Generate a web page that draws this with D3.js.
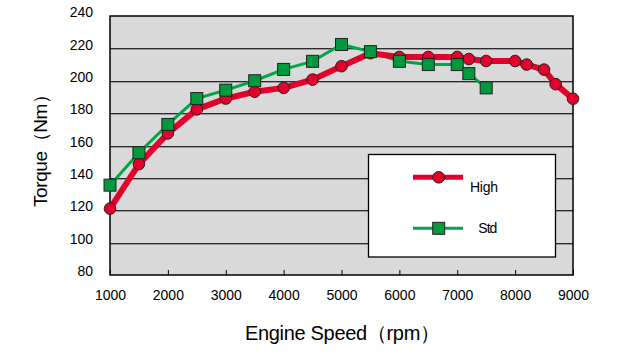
<!DOCTYPE html>
<html>
<head>
<meta charset="utf-8">
<script src="https://cdn.jsdelivr.net/npm/d3@7"></script>
<style>
  body { margin: 0; background: white; }
  svg { display: block; font-family: "Liberation Sans", Arial, sans-serif; }
</style>
</head>
<body>
<div id="wrapper"></div>
<script>
// data
const rpmHigh = [1000, 1500, 2000, 2500, 3000, 3500, 4000, 4500, 5000, 5500, 6000, 6500, 7000, 7200, 7500, 8000, 8200, 8500, 8700, 9000]
const torqueHigh = [121, 148.5, 167.5, 182.3, 189, 193.2, 195.6, 200.7, 209, 217, 214.7, 214.7, 214.7, 213.4, 212.2, 212.2, 210, 206.9, 197.9, 188.9]
const rpmStd = [1000, 1500, 2000, 2500, 3000, 3500, 4000, 4500, 5000, 5500, 6000, 6500, 7000, 7200, 7500]
const torqueStd = [135.5, 155.5, 173, 189, 194.2, 200, 207, 212, 222.4, 218, 212, 210, 210, 204.4, 195.6]
const xTicks = [1000, 2000, 3000, 4000, 5000, 6000, 7000, 8000, 9000]
const yTicks = [80, 100, 120, 140, 160, 180, 200, 220, 240]

const red = "#e3002b"
const greenLine = "#00a645"
const greenFill = "#00993d"

function drawChart() {
  const xAccessor = d => d.x
  const yAccessor = d => d.y

  const high = rpmHigh.map((x, i) => ({ x, y: torqueHigh[i] }))
  const std = rpmStd.map((x, i) => ({ x, y: torqueStd[i] }))

  // dimensions and framing
  let dimensions = {
    width: 630,
    height: 361,
    margin: {
      top: 16,
      right: 57,
      bottom: 86,
      left: 110,
    },
  }
  dimensions.boundedWidth = dimensions.width
    - dimensions.margin.left
    - dimensions.margin.right
  dimensions.boundedHeight = dimensions.height
    - dimensions.margin.top
    - dimensions.margin.bottom

  const wrapper = d3.select("#wrapper")
    .append("svg")
      .attr("width", dimensions.width)
      .attr("height", dimensions.height)

  const bounds = wrapper.append("g")
      .attr("transform", `translate(${dimensions.margin.left},${dimensions.margin.top})`)

  // scales
  const xScale = d3.scaleLinear()
    .domain([1000, 9000])
    .range([0, dimensions.boundedWidth])

  const yScale = d3.scaleLinear()
    .domain([80, 240])
    .range([dimensions.boundedHeight, 0])

  // plot background
  bounds.append("rect")
      .attr("width", dimensions.boundedWidth)
      .attr("height", dimensions.boundedHeight)
      .attr("fill", "#d9d9d9")

  // gridlines (dark line with a lighter line under it)
  const grid = bounds.append("g")
  grid.selectAll(".shade")
      .data(yTicks.slice(1, -1))
    .join("line")
      .attr("x1", 0)
      .attr("x2", dimensions.boundedWidth)
      .attr("y1", d => Math.round(yScale(d)) + 1.5)
      .attr("y2", d => Math.round(yScale(d)) + 1.5)
      .attr("stroke", "#9a9a9a")
  grid.selectAll(".main")
      .data(yTicks.slice(1, -1))
    .join("line")
      .attr("x1", 0)
      .attr("x2", dimensions.boundedWidth)
      .attr("y1", d => Math.round(yScale(d)) + 0.5)
      .attr("y2", d => Math.round(yScale(d)) + 0.5)
      .attr("stroke", "#2a2a2a")

  // frame
  bounds.append("rect")
      .attr("width", dimensions.boundedWidth)
      .attr("height", dimensions.boundedHeight)
      .attr("fill", "none")
      .attr("stroke", "#000")
      .attr("stroke-width", 1.5)

  // axes
  const xAxisGenerator = d3.axisBottom(xScale)
    .tickValues(xTicks)
    .tickFormat(d3.format("d"))
    .tickSizeInner(-5)
    .tickSizeOuter(0)
    .tickPadding(15)
  const xAxis = bounds.append("g")
      .attr("transform", `translate(0,${dimensions.boundedHeight})`)
    .call(xAxisGenerator)
  xAxis.select(".domain").remove()
  xAxis.selectAll("line").attr("stroke", "#000")
  xAxis.selectAll("text")
      .attr("fill", "#000")
      .style("font-size", "14px")

  const yAxisGenerator = d3.axisLeft(yScale)
    .tickValues(yTicks)
    .tickSize(0)
    .tickPadding(17)
  const yAxis = bounds.append("g")
    .call(yAxisGenerator)
  yAxis.select(".domain").remove()
  yAxis.selectAll("text")
      .attr("fill", "#000")
      .attr("dy", "0.05em")
      .style("font-size", "14px")

  // axis titles
  wrapper.append("text")
      .attr("x", 245)
      .attr("y", 340)
      .attr("textLength", 195)
      .attr("lengthAdjust", "spacing")
      .style("font-size", "20px")
      .text("Engine Speed（rpm）")

  wrapper.append("text")
      .attr("transform", "translate(47,207) rotate(-90)")
      .attr("textLength", 122)
      .attr("lengthAdjust", "spacing")
      .style("font-size", "19px")
      .text("Torque（Nm）")

  // lines
  const lineGenerator = d3.line()
    .x(d => xScale(xAccessor(d)))
    .y(d => yScale(yAccessor(d)))

  bounds.append("path")
      .attr("d", lineGenerator(std))
      .attr("fill", "none")
      .attr("stroke", greenLine)
      .attr("stroke-width", 3)
      .attr("stroke-linejoin", "round")

  bounds.append("path")
      .attr("d", lineGenerator(high))
      .attr("fill", "none")
      .attr("stroke", red)
      .attr("stroke-width", 6)
      .attr("stroke-linejoin", "round")

  // markers
  bounds.selectAll(".high")
      .data(high)
    .join("circle")
      .attr("cx", d => xScale(xAccessor(d)))
      .attr("cy", d => yScale(yAccessor(d)))
      .attr("r", 5.8)
      .attr("fill", red)
      .attr("stroke", "#222")
      .attr("stroke-width", 1)

  const squareSize = 12
  bounds.selectAll(".std")
      .data(std)
    .join("rect")
      .attr("x", d => xScale(xAccessor(d)) - squareSize / 2)
      .attr("y", d => yScale(yAccessor(d)) - squareSize / 2)
      .attr("width", squareSize)
      .attr("height", squareSize)
      .attr("fill", greenFill)
      .attr("stroke", "#222")
      .attr("stroke-width", 1)

  // legend
  const legend = wrapper.append("g")
  legend.append("rect")
      .attr("x", 368.5)
      .attr("y", 154.5)
      .attr("width", 187)
      .attr("height", 102.5)
      .attr("fill", "white")
      .attr("stroke", "#000")
      .attr("stroke-width", 1.3)

  legend.append("line")
      .attr("x1", 413).attr("x2", 463)
      .attr("y1", 177.3).attr("y2", 177.3)
      .attr("stroke", red)
      .attr("stroke-width", 5)
  legend.append("circle")
      .attr("cx", 438.7).attr("cy", 177.3)
      .attr("r", 5.8)
      .attr("fill", red)
      .attr("stroke", "#222")
  legend.append("text")
      .attr("x", 470).attr("y", 191.5)
      .attr("textLength", 28)
      .attr("lengthAdjust", "spacing")
      .style("font-size", "14px")
      .text("High")

  legend.append("line")
      .attr("x1", 413).attr("x2", 463)
      .attr("y1", 228.3).attr("y2", 228.3)
      .attr("stroke", greenLine)
      .attr("stroke-width", 3)
  legend.append("rect")
      .attr("x", 438.7 - squareSize / 2).attr("y", 228.3 - squareSize / 2)
      .attr("width", squareSize).attr("height", squareSize)
      .attr("fill", greenFill)
      .attr("stroke", "#222")
  legend.append("text")
      .attr("x", 478.3).attr("y", 233.3)
      .attr("textLength", 19)
      .attr("lengthAdjust", "spacing")
      .style("font-size", "14px")
      .text("Std")
}

drawChart()
</script>
</body>
</html>
